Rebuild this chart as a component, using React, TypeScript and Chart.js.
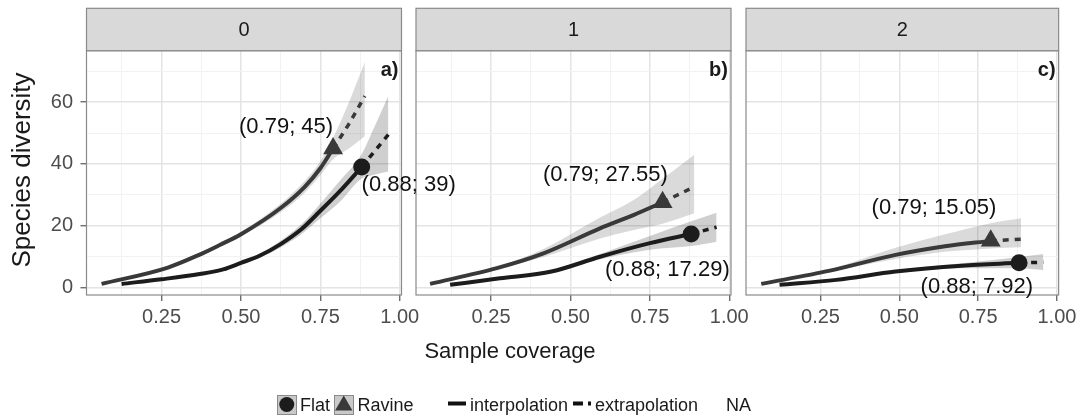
import React, { useEffect, useRef } from "react";
import { Chart, registerables } from "chart.js";

Chart.register(...registerables);

const FONT = '"Liberation Sans", Arial, Helvetica, sans-serif';
Chart.defaults.font.family = FONT;

// ---------- text ----------
const facetLabels = ["0", "1", "2"];
const panelTags = ["a)", "b)", "c)"];
const xAxisTitle = "Sample coverage";
const yAxisTitle = "Species diversity";
const legendSites = ["Flat", "Ravine"];
const legendMethods = ["interpolation", "extrapolation"];
const legendNA = "NA";

// ---------- ticks ----------
const xMajorTicks = [0.25, 0.5, 0.75, 1.0];
const yMajorTicks = [0, 20, 40, 60];

// ---------- observed (reference sample) points ----------
const flatObsX = [0.88, 0.88, 0.88];
const flatObsY = [39, 17.29, 7.92];
const ravineObsX = [0.79, 0.79, 0.79];
const ravineObsY = [45, 27.55, 15.05];

// ---------- q = 0 ----------
const q0RavineX = [0.061, 0.27, 0.37, 0.433, 0.5, 0.625, 0.7, 0.75, 0.79, 0.84, 0.89];
const q0RavineY = [1.1, 6.4, 10.6, 13.7, 17.2, 25.7, 32.5, 38.6, 45, 53, 62];
const q0RavineLo = [1.0, 6.1, 10.2, 13.1, 16.4, 24.3, 30.6, 36.3, 41.5, 45, 49];
const q0RavineHi = [1.2, 6.7, 11.0, 14.3, 18.0, 27.1, 34.4, 40.9, 48.5, 60, 73];

const q0FlatX = [0.124, 0.25, 0.37, 0.444, 0.5, 0.56, 0.625, 0.69, 0.75, 0.81, 0.88, 0.92, 0.964];
const q0FlatY = [1.1, 2.6, 4.3, 5.8, 7.9, 10.3, 14.0, 18.8, 24.8, 31.0, 39, 44, 49.5];
const q0FlatLo = [1.0, 2.4, 4.0, 5.4, 7.4, 9.6, 12.9, 17.2, 22.4, 27.6, 35.3, 36.5, 37.5];
const q0FlatHi = [1.2, 2.8, 4.6, 6.2, 8.4, 11.0, 15.1, 20.4, 27.2, 34.4, 43.2, 52, 62];

// ---------- q = 1 ----------
const q1RavineX = [0.058, 0.268, 0.415, 0.593, 0.7, 0.79, 0.89];
const q1RavineY = [1.1, 6.2, 11.0, 19.1, 23.5, 27.55, 32.6];
const q1RavineLo = [1.0, 5.8, 9.8, 15.8, 18.6, 20.6, 24.0];
const q1RavineHi = [1.2, 6.6, 12.4, 22.6, 28.4, 35.2, 43.0];

const q1FlatX = [0.121, 0.278, 0.44, 0.593, 0.75, 0.88, 0.96];
const q1FlatY = [0.8, 2.9, 5.1, 9.9, 14.3, 17.29, 19.5];
const q1FlatLo = [0.7, 2.7, 4.8, 9.1, 12.2, 13.4, 14.8];
const q1FlatHi = [0.9, 3.1, 5.4, 10.8, 16.6, 21.4, 24.2];

// ---------- q = 2 ----------
const q2RavineX = [0.062, 0.28, 0.488, 0.645, 0.79, 0.886];
const q2RavineY = [1.1, 5.4, 10.5, 13.3, 15.05, 15.6];
const q2RavineLo = [1.0, 5.0, 9.2, 11.5, 12.6, 13.0];
const q2RavineHi = [1.2, 5.9, 12.8, 17.2, 20.8, 22.4];

const q2FlatX = [0.12, 0.3, 0.488, 0.697, 0.88, 0.957];
const q2FlatY = [0.8, 2.4, 5.1, 7.0, 7.92, 8.1];
const q2FlatLo = [0.7, 2.2, 4.7, 6.2, 6.2, 5.6];
const q2FlatHi = [0.9, 2.6, 5.5, 7.8, 9.8, 10.8];

// ---------- annotation anchors (data units, text centre) ----------
const flatLabelAnchor = [[1.028, 33.2], [0.805, 5.6], [0.746, 0.2]];
const ravineLabelAnchor = [[0.642, 52], [0.61, 36.4], [0.61, 25.6]];

const panelCurves = [
  { flat: { x: q0FlatX, y: q0FlatY, lo: q0FlatLo, hi: q0FlatHi }, ravine: { x: q0RavineX, y: q0RavineY, lo: q0RavineLo, hi: q0RavineHi } },
  { flat: { x: q1FlatX, y: q1FlatY, lo: q1FlatLo, hi: q1FlatHi }, ravine: { x: q1RavineX, y: q1RavineY, lo: q1RavineLo, hi: q1RavineHi } },
  { flat: { x: q2FlatX, y: q2FlatY, lo: q2FlatLo, hi: q2FlatHi }, ravine: { x: q2RavineX, y: q2RavineY, lo: q2RavineLo, hi: q2RavineHi } },
];

// ---------- layout / style ----------
const W = 1081;
const H = 417;
const X_MIN = 0.0136;
const X_MAX = 1.0054;
const Y_MIN = -2.5;
const Y_MAX = 76.7;
const PANEL_LEFT = [86.5, 416, 746];
const PANEL_RIGHT = [401.5, 731, 1061];
const PANEL_TOP = 50.7;
const PANEL_BOTTOM = 295;
const STRIP_TOP = 8.3;
const X_AXIS_H = 40;
const Y_AXIS_W = 40;

const BORDER = "#8a8a8a";
const STRIP_FILL = "#d9d9d9";
const GRID_MAJOR = "#e4e4e4";
const GRID_MINOR = "#f2f2f2";
const TICK_COLOR = "#555555";
const TICK_TEXT = "#4d4d4d";
const TEXT = "#1a1a1a";
const FLAT_LINE = "#1c1c1c";
const RAVINE_LINE = "#393939";
const FLAT_FILL = "rgba(0,0,0,0.19)";
const RAVINE_FILL = "rgba(0,0,0,0.145)";

const isMajor = (v: number, majors: number[]) => majors.some((m) => Math.abs(m - v) < 1e-6);
const pts = (xs: number[], ys: number[]) => xs.map((x, i) => ({ x, y: ys[i] }));
const fmtLabel = (x: number, y: number) => `(${x.toFixed(2)}; ${y})`;

function buildDatasets(pi: number) {
  const P = panelCurves[pi];
  const sites = [
    { c: P.ravine, ox: ravineObsX[pi], oy: ravineObsY[pi], line: RAVINE_LINE, fill: RAVINE_FILL, style: "triangle", r: 11.5 },
    { c: P.flat, ox: flatObsX[pi], oy: flatObsY[pi], line: FLAT_LINE, fill: FLAT_FILL, style: "circle", r: 8.5 },
  ];
  const ds: any[] = [];
  for (const s of sites) {
    ds.push({
      data: pts(s.c.x, s.c.hi),
      borderColor: "rgba(0,0,0,0)",
      borderWidth: 0,
      pointRadius: 0,
      backgroundColor: s.fill,
      fill: "+1",
      cubicInterpolationMode: "monotone",
      order: 3,
    });
    ds.push({
      data: pts(s.c.x, s.c.lo),
      borderColor: "rgba(0,0,0,0)",
      borderWidth: 0,
      pointRadius: 0,
      fill: false,
      cubicInterpolationMode: "monotone",
      order: 3,
    });
  }
  for (const s of sites) {
    const all = pts(s.c.x, s.c.y);
    const interp = all.filter((p) => p.x <= s.ox + 1e-9);
    const extrap = all.filter((p) => p.x >= s.ox - 1e-9);
    ds.push({
      data: interp,
      borderColor: s.line,
      borderWidth: 4,
      pointRadius: 0,
      fill: false,
      cubicInterpolationMode: "monotone",
      borderJoinStyle: "round",
      borderCapStyle: "butt",
      order: 2,
    });
    ds.push({
      data: extrap,
      borderColor: s.line,
      borderWidth: 3.5,
      borderDash: [6, 6],
      pointRadius: 0,
      fill: false,
      cubicInterpolationMode: "monotone",
      borderCapStyle: "butt",
      order: 2,
    });
  }
  for (const s of sites) {
    ds.push({
      data: [{ x: s.ox, y: s.oy }],
      showLine: false,
      pointStyle: s.style,
      pointRadius: s.r,
      pointBackgroundColor: s.line,
      pointBorderWidth: 0,
      pointBorderColor: "rgba(0,0,0,0)",
      order: 1,
    });
  }
  return ds;
}

function drawGlobal(ctx: CanvasRenderingContext2D) {
  ctx.save();
  ctx.fillStyle = TEXT;
  // x axis title
  ctx.font = `22px ${FONT}`;
  ctx.textAlign = "center";
  ctx.textBaseline = "alphabetic";
  ctx.fillText(xAxisTitle, 510, 358);
  // y axis title
  ctx.save();
  ctx.translate(29.5, 170);
  ctx.rotate(-Math.PI / 2);
  ctx.font = `26px ${FONT}`;
  ctx.textAlign = "center";
  ctx.fillText(yAxisTitle, 0, 0);
  ctx.restore();

  // legend
  const ly = 404.5;
  const keys = [
    { x: 277, shape: "circle", color: FLAT_LINE },
    { x: 334, shape: "triangle", color: RAVINE_LINE },
  ];
  const textX = [300, 357.5];
  keys.forEach((k, i) => {
    ctx.fillStyle = "#c9c9c9";
    ctx.fillRect(k.x, 395, 19.5, 19.5);
    ctx.strokeStyle = BORDER;
    ctx.lineWidth = 1;
    ctx.strokeRect(k.x + 0.5, 395.5, 19, 19);
    ctx.fillStyle = k.color;
    const cx = k.x + 9.75;
    ctx.beginPath();
    if (k.shape === "circle") {
      ctx.arc(cx, ly, 7.5, 0, Math.PI * 2);
    } else {
      const r = 10;
      ctx.moveTo(cx, ly - r + 1);
      ctx.lineTo(cx + r * 0.866, ly + r * 0.5 + 1);
      ctx.lineTo(cx - r * 0.866, ly + r * 0.5 + 1);
      ctx.closePath();
    }
    ctx.fill();
    ctx.fillStyle = TEXT;
    ctx.font = `18px ${FONT}`;
    ctx.textAlign = "left";
    ctx.fillText(legendSites[i], textX[i], 410.5);
  });
  // method keys
  ctx.strokeStyle = "#111";
  ctx.lineWidth = 4;
  ctx.beginPath();
  ctx.moveTo(448, 403.5);
  ctx.lineTo(466, 403.5);
  ctx.stroke();
  ctx.setLineDash([10, 5]);
  ctx.beginPath();
  ctx.moveTo(573, 403.5);
  ctx.lineTo(591, 403.5);
  ctx.stroke();
  ctx.setLineDash([]);
  ctx.fillStyle = TEXT;
  ctx.font = `18px ${FONT}`;
  ctx.textAlign = "left";
  ctx.fillText(legendMethods[0], 470, 410.5);
  ctx.fillText(legendMethods[1], 595, 410.5);
  ctx.fillText(legendNA, 726, 410.5);
  ctx.restore();
}

function makePanelPlugin(pi: number) {
  return {
    id: "panelDeco" + pi,
    afterDraw(chart: any) {
      const { ctx, chartArea: a } = chart;
      const xs = chart.scales.x;
      const ys = chart.scales.y;
      ctx.save();
      // panel border
      ctx.strokeStyle = BORDER;
      ctx.lineWidth = 1.2;
      ctx.strokeRect(a.left, a.top, a.right - a.left, a.bottom - a.top);
      // strip
      ctx.fillStyle = STRIP_FILL;
      ctx.fillRect(a.left, STRIP_TOP, a.right - a.left, a.top - STRIP_TOP);
      ctx.strokeRect(a.left, STRIP_TOP, a.right - a.left, a.top - STRIP_TOP);
      ctx.fillStyle = TEXT;
      ctx.font = `20px ${FONT}`;
      ctx.textAlign = "center";
      ctx.textBaseline = "middle";
      ctx.fillText(facetLabels[pi], (a.left + a.right) / 2, (STRIP_TOP + a.top) / 2 + 1);
      // tag
      ctx.font = `bold 20px ${FONT}`;
      ctx.textAlign = "right";
      ctx.fillText(panelTags[pi], a.right - 3, a.top + 20);
      // value labels
      ctx.font = `22px ${FONT}`;
      ctx.fillStyle = "#111";
      ctx.textAlign = "center";
      const lab = [
        { t: fmtLabel(ravineObsX[pi], ravineObsY[pi]), p: ravineLabelAnchor[pi] },
        { t: fmtLabel(flatObsX[pi], flatObsY[pi]), p: flatLabelAnchor[pi] },
      ];
      for (const l of lab) {
        ctx.fillText(l.t, xs.getPixelForValue(l.p[0]), ys.getPixelForValue(l.p[1]));
      }
      ctx.restore();
      if (pi === 0) drawGlobal(ctx);
    },
  };
}

function makeConfig(pi: number): any {
  const first = pi === 0;
  return {
    type: "line",
    data: { datasets: buildDatasets(pi) },
    plugins: [makePanelPlugin(pi)],
    options: {
      responsive: false,
      maintainAspectRatio: false,
      animation: false,
      devicePixelRatio: 1,
      events: [],
      layout: {
        padding: {
          left: first ? PANEL_LEFT[pi] - Y_AXIS_W : PANEL_LEFT[pi],
          right: W - PANEL_RIGHT[pi],
          top: PANEL_TOP,
          bottom: H - PANEL_BOTTOM - X_AXIS_H,
        },
      },
      plugins: { legend: { display: false }, tooltip: { enabled: false }, title: { display: false } },
      scales: {
        x: {
          type: "linear",
          min: X_MIN,
          max: X_MAX,
          border: { display: false },
          afterFit: (s: any) => {
            s.height = X_AXIS_H;
          },
          ticks: {
            stepSize: 0.125,
            includeBounds: false,
            autoSkip: false,
            maxRotation: 0,
            minRotation: 0,
            padding: 4.5,
            color: TICK_TEXT,
            font: { size: 20, family: FONT },
            callback: (v: number) => (isMajor(v, xMajorTicks) ? v.toFixed(2) : ""),
          },
          grid: {
            drawTicks: true,
            tickLength: 6,
            color: (c: any) => (c.tick && isMajor(c.tick.value, xMajorTicks) ? GRID_MAJOR : GRID_MINOR),
            lineWidth: (c: any) => (c.tick && isMajor(c.tick.value, xMajorTicks) ? 1.5 : 1),
            tickColor: (c: any) => (c.tick && isMajor(c.tick.value, xMajorTicks) ? TICK_COLOR : "rgba(0,0,0,0)"),
            tickWidth: 1.2,
          },
        },
        y: {
          type: "linear",
          min: Y_MIN,
          max: Y_MAX,
          border: { display: false },
          afterFit: (s: any) => {
            s.width = first ? Y_AXIS_W : 0;
          },
          ticks: {
            display: first,
            stepSize: 10,
            includeBounds: false,
            autoSkip: false,
            padding: 7.5,
            color: TICK_TEXT,
            font: { size: 20, family: FONT },
            callback: (v: number) => (isMajor(v, yMajorTicks) ? String(v) : ""),
          },
          grid: {
            drawTicks: first,
            tickLength: 6,
            color: (c: any) => (c.tick && isMajor(c.tick.value, yMajorTicks) ? GRID_MAJOR : GRID_MINOR),
            lineWidth: (c: any) => (c.tick && isMajor(c.tick.value, yMajorTicks) ? 1.5 : 1),
            tickColor: (c: any) => (c.tick && isMajor(c.tick.value, yMajorTicks) ? TICK_COLOR : "rgba(0,0,0,0)"),
            tickWidth: 1.2,
          },
        },
      },
    },
  };
}

export default function App() {
  const r0 = useRef<HTMLCanvasElement>(null);
  const r1 = useRef<HTMLCanvasElement>(null);
  const r2 = useRef<HTMLCanvasElement>(null);
  const refs = [r0, r1, r2];

  useEffect(() => {
    const charts = refs.map((r, i) => new Chart(r.current as HTMLCanvasElement, makeConfig(i)));
    return () => charts.forEach((c) => c.destroy());
  }, []);

  return (
    <div style={{ position: "fixed", left: 0, top: 0, width: W, height: H, background: "#ffffff", overflow: "hidden" }}>
      {refs.map((r, i) => (
        <canvas
          key={i}
          ref={r}
          width={W}
          height={H}
          style={{ position: "absolute", left: 0, top: 0, width: W, height: H, zIndex: 3 - i }}
        />
      ))}
    </div>
  );
}
